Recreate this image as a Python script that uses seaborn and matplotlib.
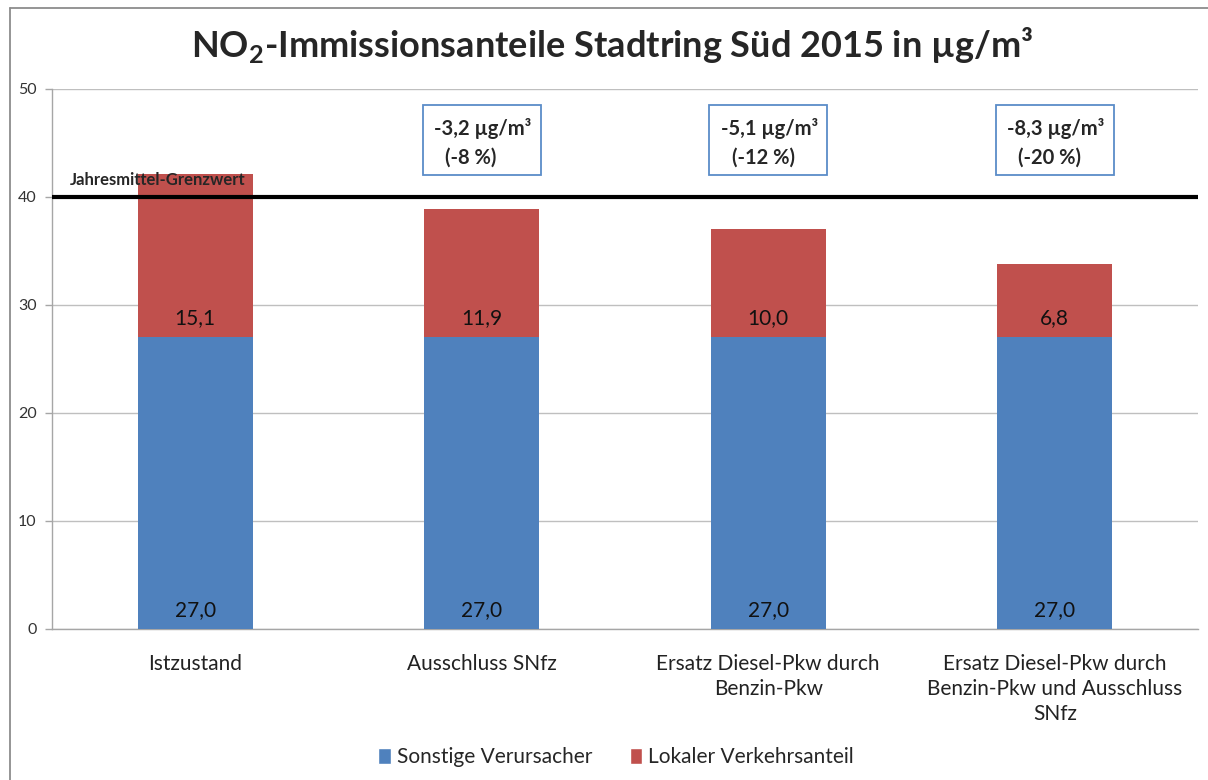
import matplotlib
matplotlib.use("Agg")
import matplotlib.pyplot as plt
import seaborn as sns
import pandas as pd
from matplotlib.lines import Line2D
from matplotlib.patches import Rectangle, Patch

categories = ["Istzustand", "Ausschluss SNfz", "Ersatz Diesel-Pkw durch\nBenzin-Pkw",
              "Ersatz Diesel-Pkw durch\nBenzin-Pkw und Ausschluss\nSNfz"]
sonstige = [27.0, 27.0, 27.0, 27.0]
lokal = [15.1, 11.9, 10.0, 6.8]
reduction_labels = ["-3,2 µg/m³", "-5,1 µg/m³", "-8,3 µg/m³"]
reduction_pct = ["(-8 %)", "(-12 %)", "(-20 %)"]
grenzwert = 40.0

sns.set_theme(style="white")
plt.rcParams['font.family'] = ['Lato', 'DejaVu Sans']
plt.rcParams['mathtext.fontset'] = 'custom'
plt.rcParams['mathtext.rm'] = 'Lato:bold'
plt.rcParams['mathtext.bf'] = 'Lato:bold'

blue = "#4F81BD"
red = "#C0504D"

df = pd.DataFrame({"Szenario": categories, "Sonstige": sonstige, "Lokal": lokal})
df["Gesamt"] = df["Sonstige"] + df["Lokal"]

fig = plt.figure(figsize=(12.08, 7.80), dpi=100)
ax = fig.add_axes([52/1208, 1-629/780, (1198-52)/1208, (629-89)/780])

sns.barplot(data=df, x="Szenario", y="Gesamt", color=red, width=0.40, ax=ax,
            saturation=1, edgecolor="none", zorder=3)
sns.barplot(data=df, x="Szenario", y="Sonstige", color=blue, width=0.40, ax=ax,
            saturation=1, edgecolor="none", zorder=3)

ax.set_xlim(-0.5, 3.5)
ax.set_ylim(0, 50)
ax.set_yticks([0, 10, 20, 30, 40, 50])
ax.set_yticklabels(["0", "10", "20", "30", "40", "50"], fontsize=11.5, color="#333333")
ax.yaxis.grid(True, color="#BFBFBF", linewidth=1)
ax.set_axisbelow(True)
ax.set_xlabel("")
ax.set_ylabel("")
ax.set_xticks(range(len(categories)))
ax.set_xticklabels(categories, fontsize=15, color="#222222", linespacing=1.3)
ax.set_xticks([-0.5, 0.5, 1.5, 2.5, 3.5], minor=True)
ax.tick_params(axis="x", which="major", length=0, pad=18)
ax.tick_params(axis="x", which="minor", length=6, color="#A6A6A6", width=1)
ax.tick_params(axis="y", which="major", length=5, color="#A6A6A6", width=1, left=True, pad=6)
for s in ["top", "right"]:
    ax.spines[s].set_visible(False)
for s in ["left", "bottom"]:
    ax.spines[s].set_color("#A6A6A6")
    ax.spines[s].set_linewidth(1)

# segment labels
for i in range(len(categories)):
    ax.text(i, 1.75, f"{sonstige[i]:.1f}".replace(".", ","), ha="center", va="center",
            fontsize=15, color="#111111", zorder=5)
    ax.text(i, sonstige[i] + 1.8, f"{lokal[i]:.1f}".replace(".", ","), ha="center", va="center",
            fontsize=15, color="#111111", zorder=5)

# threshold line
ax.axhline(grenzwert, color="black", linewidth=3, zorder=4)
ax.text(-0.437, 41.6, "Jahresmittel-Grenzwert", fontsize=12, fontweight="bold",
        ha="left", va="center", zorder=6)

# reduction boxes
for j in range(3):
    xc = j + 1
    left = xc - 0.206
    ax.add_patch(Rectangle((left, 42.0), 0.412, 6.5, fill=True, facecolor="white",
                           edgecolor="#5B8CC8", linewidth=1.3, zorder=6))
    ax.text(left + 0.040, 46.3, reduction_labels[j], fontsize=14.5, fontweight="bold",
            ha="left", va="center", zorder=7)
    ax.text(left + 0.078, 43.6, reduction_pct[j], fontsize=14.5, fontweight="bold",
            ha="left", va="center", zorder=7)

# title
fig.text(0.507, 1-45/780, r"NO$_\mathbf{2}$-Immissionsanteile Stadtring Süd 2015 in µg/m³",
         ha="center", va="center", fontsize=26, fontweight="bold")

# legend
handles = [Patch(facecolor=blue, label="Sonstige Verursacher"),
           Patch(facecolor=red, label="Lokaler Verkehrsanteil")]
fig.legend(handles=handles, loc="center", bbox_to_anchor=(0.51, 1-757/780), ncol=2,
           frameon=False, fontsize=15, handlelength=0.6, handleheight=0.8,
           handletextpad=0.3, columnspacing=1.8)

# outer border (left and top)
fig.add_artist(Line2D([10/1208, 10/1208], [0, 1-8/780], transform=fig.transFigure,
                      color="#8C8C8C", linewidth=1.3))
fig.add_artist(Line2D([10/1208, 1], [1-8/780, 1-8/780], transform=fig.transFigure,
                      color="#8C8C8C", linewidth=1.3))

fig.savefig("out.png", dpi=100, facecolor="white")
